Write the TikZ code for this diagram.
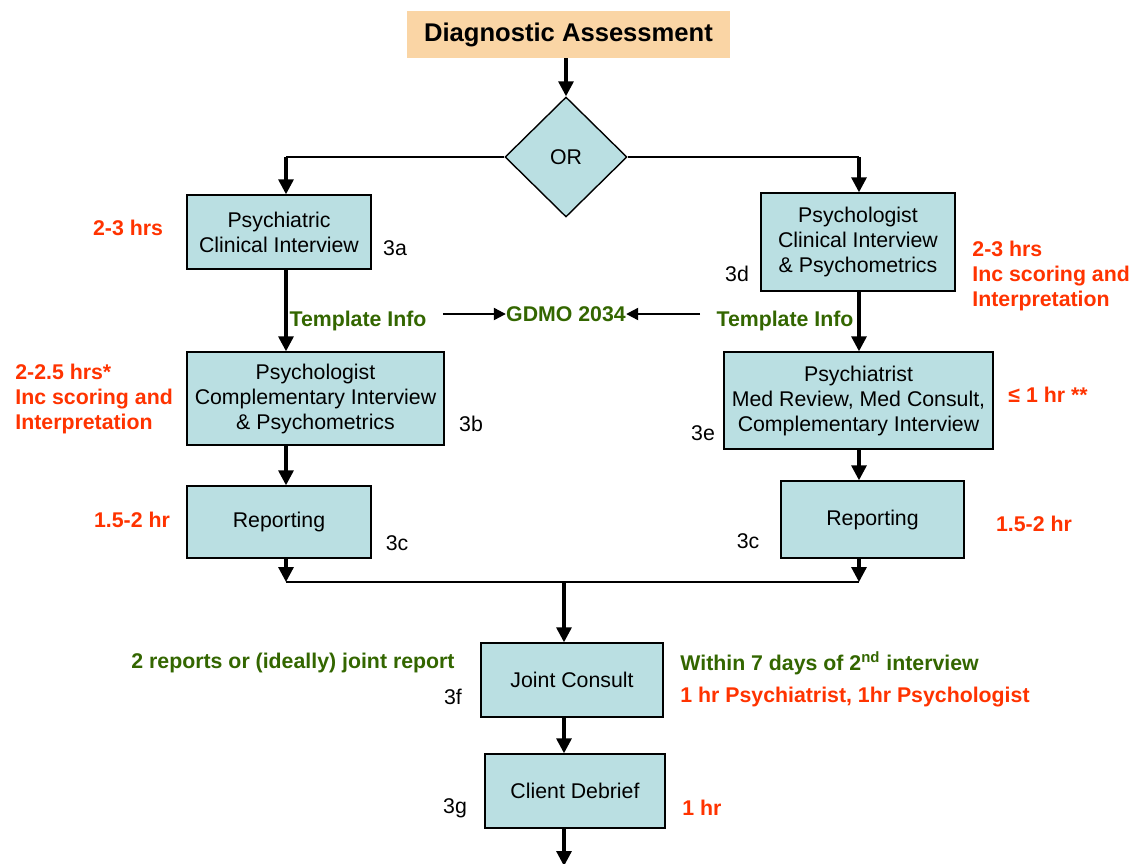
\documentclass[tikz,border=0pt]{standalone}
\usepackage{fontspec}
\setmainfont{Liberation Sans}
\usetikzlibrary{arrows.meta,shapes.geometric}
\definecolor{boxblue}{RGB}{186,223,226}
\definecolor{peach}{RGB}{250,213,165}
\definecolor{timered}{RGB}{255,51,0}
\definecolor{notegreen}{RGB}{51,102,0}

\begin{document}
\begin{tikzpicture}[x=0.5pt, y=-0.5pt,
  tbox/.style={fill=peach, inner sep=0pt,
               minimum width=161.5pt, minimum height=23.5pt,
               font=\fontsize{12.8}{15}\selectfont\bfseries},
  box/.style={draw, line width=0.7pt, fill=boxblue, inner sep=0pt,
              align=center, font=\fontsize{10.65}{12.5}\selectfont},
  orbox/.style={draw, line width=0.7pt, diamond, fill=boxblue, inner sep=0pt,
                minimum width=61pt, minimum height=60pt,
                font=\fontsize{10.65}{12.5}\selectfont},
  hrs/.style={text=timered, inner sep=0pt, align=left,
              font=\fontsize{10.65}{12.5}\selectfont\bfseries},
  note/.style={text=notegreen, inner sep=0pt, align=left,
               font=\fontsize{10.65}{12.5}\selectfont\bfseries},
  tag/.style={inner sep=0pt, font=\fontsize{10.65}{12.5}\selectfont},
  line/.style={line width=0.85pt},
  arr/.style={-{Triangle[width=7.5pt,length=7.5pt]}, line width=1.6pt},
  infoarr/.style={-{Triangle[width=6pt,length=6pt]}, line width=1.1pt}
]
\useasboundingbox (0,0) rectangle (1135,863);

%% Top: assessment and the OR choice
\node[tbox] (diag) at (568.5,34.5) {Diagnostic Assessment};
\node[orbox] (choice) at (566,157) {OR};
\draw[arr] (diag.south -| choice.north) -- (choice.north);

\coordinate (cornL) at (286,157);
\coordinate (cornR) at (859,157);
\draw[line] (choice.west) -- (cornL);
\draw[line] (choice.east) -- (cornR);

%% Left branch: psychiatrist first
\node[box, minimum width=92pt, minimum height=37pt] (intA) at (279,232)
  {Psychiatric\\Clinical Interview};
\node[box, minimum width=128.5pt, minimum height=46.5pt] (intB) at (315.5,398.5)
  {Psychologist\\Complementary Interview\\\& Psychometrics};
\node[box, minimum width=92pt, minimum height=36pt] (repL) at (279,522)
  {Reporting};

\draw[arr] (cornL) -- (intA.north -| cornL);
\draw[arr] (intA.south -| cornL) -- (intB.north -| cornL);
\draw[arr] (intB.south -| cornL) -- (repL.north -| cornL);

\node[hrs] (tA) at (128,228) {2-3 hrs};
\node[hrs, anchor=west] (tB) at (15,399)
  {2-2.5 hrs*\\Inc scoring and\\Interpretation};
\node[hrs] (tC) at (132,520) {1.5-2 hr};
\node[tag] (lA) at (395,248) {3a};
\node[tag] (lB) at (471,424) {3b};
\node[tag] (lC) at (397,543) {3c};

%% Right branch: psychologist first
\node[box, minimum width=97pt, minimum height=49pt] (intD) at (858,242)
  {Psychologist\\Clinical Interview\\\& Psychometrics};
\node[box, minimum width=134.5pt, minimum height=48.5pt] (intE) at (858.5,400.5)
  {Psychiatrist\\Med Review, Med Consult,\\Complementary Interview};
\node[box, minimum width=91.5pt, minimum height=38.5pt] (repR) at (872.5,519.5)
  {Reporting};

\draw[arr] (cornR) -- (intD.north -| cornR);
\draw[arr] (intD.south -| cornR) -- (intE.north -| cornR);
\draw[arr] (intE.south -| cornR) -- (repR.north -| cornR);

\node[hrs, anchor=west] (tD) at (972,276)
  {2-3 hrs\\Inc scoring and\\Interpretation};
\node[hrs] (tE) at (1048,395) {≤ 1 hr **};
\node[hrs] (tF) at (1034,524) {1.5-2 hr};
\node[tag] (lD) at (737,274) {3d};
\node[tag] (lE) at (703,433) {3e};
\node[tag] (lF) at (748,541) {3c};

%% Template info to GDMO
\node[note] (gdmo) at (566,314) {GDMO 2034};
\node[note] (tplL) at (358,321) {Template Info};
\node[note] (tplR) at (785,321) {Template Info};
\draw[infoarr, shorten <=8pt] (tplL.east |- gdmo.west) -- (gdmo.west);
\draw[infoarr, shorten <=8pt] (tplR.west |- gdmo.east) -- (gdmo.east);

%% Merge of both reports
\coordinate (mergeL) at (286,582);
\coordinate (mergeR) at (859,582);
\coordinate (mergeC) at (564,582);
\draw[arr] (repL.south -| mergeL) -- (mergeL);
\draw[arr] (repR.south -| mergeR) -- (mergeR);
\draw[line] (mergeL) -- (mergeR);

%% Joint consult and debrief
\node[box, minimum width=91pt, minimum height=37pt] (joint) at (572,680)
  {Joint Consult};
\node[box, minimum width=90pt, minimum height=37pt] (debrief) at (575,791)
  {Client Debrief};
\coordinate (exit) at (564,866);

\draw[arr] (mergeC) -- (joint.north -| mergeC);
\draw[arr] (joint.south -| mergeC) -- (debrief.north -| mergeC);
\draw[arr] (debrief.south -| mergeC) -- (exit);

\node[note] (nRep) at (293,663) {2 reports or (ideally) joint report};
\node[note, anchor=west] (nDays) at (680,663)
  {Within 7 days of 2\textsuperscript{nd} interview};
\node[hrs, anchor=west] (tJ) at (680,697) {1 hr Psychiatrist, 1hr Psychologist};
\node[hrs] (tG) at (702,808) {1 hr};
\node[tag] (lJ) at (453,697) {3f};
\node[tag] (lG) at (455,808) {3g};
\end{tikzpicture}
\end{document}
